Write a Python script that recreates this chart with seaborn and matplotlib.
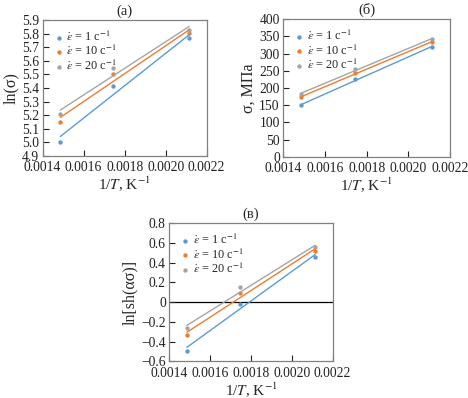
import numpy as np
import pandas as pd
import seaborn as sns
import matplotlib
matplotlib.use("Agg")
import matplotlib.pyplot as plt

# 1/T for 673, 573, 473 K
inv_t = [1 / 673, 1 / 573, 1 / 473]
rates = ["1", "10", "20"]
colors = ["#5B9BD5", "#ED7D31", "#A5A5A5"]

ln_sigma = {
    "1": [5.005, 5.415, 5.765],
    "10": [5.15, 5.505, 5.805],
    "20": [5.205, 5.545, 5.83],
}
sigma_mpa = {
    "1": [150, 225, 320],
    "10": [173, 244, 334],
    "20": [182, 256, 342],
}
ln_sh = {
    "1": [-0.49, -0.015, 0.46],
    "10": [-0.335, 0.095, 0.52],
    "20": [-0.265, 0.15, 0.556],
}

sns.set_style("white")
plt.rcParams["font.family"] = ["Liberation Serif", "DejaVu Serif"]
plt.rcParams["mathtext.fontset"] = "stix"

fig = plt.figure(figsize=(4.68, 3.98), dpi=100)


def make_df(vals):
    rows = []
    for r in rates:
        for x, y in zip(inv_t, vals[r]):
            rows.append({"x": x, "y": y, "rate": r})
    return pd.DataFrame(rows)


def panel(rect, vals, ylim, yticks, yfmt, ylabel, title):
    ax = fig.add_axes(rect)
    df = make_df(vals)
    for r, c in zip(rates, colors):
        sub = df[df.rate == r]
        sns.regplot(data=sub, x="x", y="y", ax=ax, ci=None, color=c,
                    scatter_kws={"s": 10, "linewidths": 0, "alpha": 1},
                    line_kws={"lw": 1.0},
                    label=r"$\dot{\varepsilon}$ = " + r + r" с$^{-1}$")
    ax.set_xlim(0.0014, 0.0022)
    ax.set_xticks([0.0014, 0.0016, 0.0018, 0.0020, 0.0022])
    ax.set_xticklabels(["0.0014", "0.0016", "0.0018", "0.0020", "0.0022"])
    ax.set_ylim(*ylim)
    ax.set_yticks(yticks)
    ax.set_yticklabels([yfmt(v) for v in yticks])
    ax.tick_params(direction="in", length=4, width=0.8, labelsize=9.8,
                   colors="#222222", bottom=True, left=True)
    ax.tick_params(axis="x", pad=4)
    ax.tick_params(axis="y", pad=2.5)
    for s in ax.spines.values():
        s.set_color("#808080")
        s.set_linewidth(0.9)
    ax.set_xlabel(r"1/$T$, K$^{-1}$", fontsize=11, labelpad=0)
    ax.set_ylabel(ylabel, fontsize=11.5, labelpad=2)
    ax.set_title(title, fontsize=10.5, pad=4)
    ax.legend(loc="upper left", frameon=False, fontsize=8.8,
              handletextpad=0.1, markerscale=1.0, labelspacing=0.0,
              borderaxespad=0.4, handlelength=1.0)
    return ax


panel([0.0912, 0.6085, 0.3504, 0.341], ln_sigma, (4.9, 5.9),
      np.round(np.arange(4.9, 5.95, 0.1), 1), lambda v: f"{v:.1f}",
      "ln(σ)", "(а)")

panel([0.6053, 0.606, 0.3562, 0.3455], sigma_mpa, (0, 400),
      list(range(0, 401, 50)), lambda v: f"{v}",
      "σ, МПа", "(б)")

ax3 = panel([0.3618, 0.092, 0.349, 0.347], ln_sh, (-0.6, 0.8),
            np.round(np.arange(-0.6, 0.85, 0.2), 1),
            lambda v: "0" if abs(v) < 1e-9 else f"{v:.1f}".replace("-", "−"),
            "ln[sh(ασ)]", "(в)")
ax3.axhline(0, color="black", lw=0.9, zorder=0)

fig.savefig("out.png", dpi=100)
